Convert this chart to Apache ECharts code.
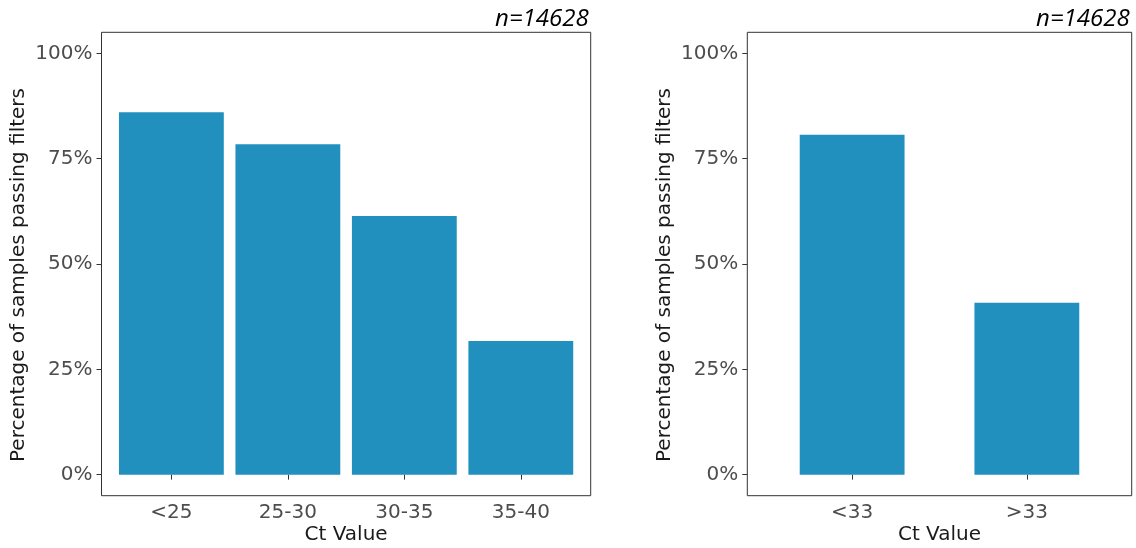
<!DOCTYPE html>
<html>
<head>
<meta charset="utf-8">
<script src="https://cdn.jsdelivr.net/npm/echarts@6/dist/echarts.min.js"></script>
<style>
html,body{margin:0;padding:0;background:#fff;}
#chart{width:1136px;height:548px;}
</style>
</head>
<body>
<div id="chart"></div>
<script>
// Data
const leftCategories = ['<25', '25-30', '30-35', '35-40'];
const leftValues = [86.0, 78.4, 61.4, 31.7];
const rightCategories = ['<33', '>33'];
const rightValues = [80.7, 40.8];
const yTicks = [0, 25, 50, 75, 100];
const nLabel = 'n=14628';
const yTitle = 'Percentage of samples passing filters';
const xTitle = 'Ct Value';

const FONT = 'DejaVu Sans';
const BAR = '#2190be';
const YMIN = -5, YMAX = 105;

// Panel frames (ggplot-like, 0.6 category padding)
const L = {left: 101.5, right: 590.7, top: 32.3, bottom: 495.7};
const R = {left: 747.3, right: 1131.7, top: 32.3, bottom: 495.7};

function dataGrid(p, n) {
  const unit = (p.right - p.left) / (n + 0.2);
  return {left: p.left + 0.1 * unit, top: p.top, width: n * unit, height: p.bottom - p.top};
}
function frameGrid(p) {
  return {left: p.left, top: p.top, width: p.right - p.left, height: p.bottom - p.top,
          show: true, borderColor: '#333', borderWidth: 1, backgroundColor: 'transparent'};
}
function frameY(gi) {
  return {
    type: 'value', gridIndex: gi, min: YMIN, max: YMAX,
    axisLine: {show: false},
    splitLine: {show: false},
    axisTick: {show: true, length: 5, lineStyle: {color: '#333', width: 1}, customValues: yTicks},
    axisLabel: {show: true, customValues: yTicks, formatter: v => v + '%', margin: 9,
                color: '#4d4d4d', fontFamily: FONT, fontSize: 20}
  };
}
function hiddenY(gi) {
  return {type: 'value', gridIndex: gi, min: YMIN, max: YMAX, show: false};
}
function hiddenX(gi) {
  return {type: 'value', gridIndex: gi, show: false};
}
function catX(gi, cats) {
  return {
    type: 'category', gridIndex: gi, data: cats, boundaryGap: true,
    axisLine: {show: false},
    axisTick: {show: true, alignWithLabel: true, length: 5, lineStyle: {color: '#333', width: 1}},
    axisLabel: {margin: 7, color: '#4d4d4d', fontFamily: FONT, fontSize: 20},
    splitLine: {show: false}
  };
}

const chart = echarts.init(document.getElementById('chart'), null, {renderer: 'canvas'});
chart.setOption({
  animation: false,
  backgroundColor: '#fff',
  grid: [frameGrid(L), dataGrid(L, leftCategories.length), frameGrid(R), dataGrid(R, rightCategories.length)],
  xAxis: [hiddenX(0), catX(1, leftCategories), hiddenX(2), catX(3, rightCategories)],
  yAxis: [frameY(0), hiddenY(1), frameY(2), hiddenY(3)],
  series: [
    {type: 'bar', xAxisIndex: 1, yAxisIndex: 1, data: leftValues, barWidth: '90%',
     itemStyle: {color: BAR}},
    {type: 'bar', xAxisIndex: 3, yAxisIndex: 3, data: rightValues, barWidth: '60%',
     itemStyle: {color: BAR}}
  ],
  graphic: [
    {type: 'text', x: 19, y: 275, rotation: Math.PI / 2,
     style: {text: yTitle, align: 'center', verticalAlign: 'middle', fill: '#1a1a1a',
             font: '20px "DejaVu Sans"'}},
    {type: 'text', x: 665, y: 275, rotation: Math.PI / 2,
     style: {text: yTitle, align: 'center', verticalAlign: 'middle', fill: '#1a1a1a',
             font: '20px "DejaVu Sans"'}},
    {type: 'text', x: (L.left + L.right) / 2, y: 535,
     style: {text: xTitle, align: 'center', verticalAlign: 'middle', fill: '#1a1a1a',
             font: '20px "DejaVu Sans"'}},
    {type: 'text', x: (R.left + R.right) / 2, y: 535,
     style: {text: xTitle, align: 'center', verticalAlign: 'middle', fill: '#1a1a1a',
             font: '20px "DejaVu Sans"'}},
    {type: 'text', x: L.right - 2, y: 19,
     style: {text: nLabel, align: 'right', verticalAlign: 'middle', fill: '#000',
             font: 'italic 24px "Open Sans"'}},
    {type: 'text', x: R.right - 2, y: 19,
     style: {text: nLabel, align: 'right', verticalAlign: 'middle', fill: '#000',
             font: 'italic 24px "Open Sans"'}}
  ]
});
</script>
</body>
</html>
